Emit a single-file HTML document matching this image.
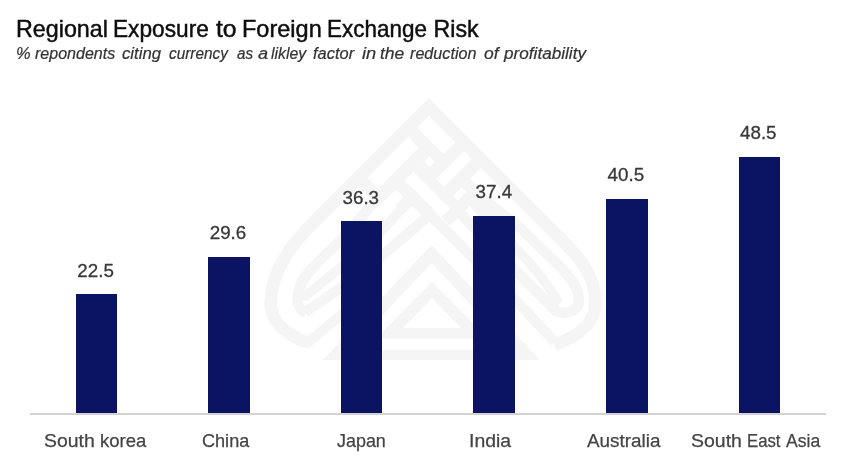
<!DOCTYPE html>
<html>
<head>
<meta charset="utf-8">
<title>Regional Exposure to Foreign Exchange Risk</title>
<style>
  html, body { margin: 0; padding: 0; background: #ffffff; }
  body { width: 842px; height: 461px; position: relative; overflow: hidden;
         font-family: "Liberation Sans", sans-serif; }
  .abs { position: absolute; white-space: nowrap; }
  #head, #labels { position: absolute; left: 0; top: 0; width: 842px; height: 461px; will-change: transform; filter: grayscale(1); }
  .tw { position: absolute; top: 16px; font-size: 23.2px; line-height: 26px; color: #0d0d0d;
        white-space: nowrap; transform-origin: 0 0; display: block; -webkit-text-stroke: 0.45px #0d0d0d; }
  .sw { position: absolute; top: 45px; font-size: 15.8px; line-height: 18px; color: #333333;
        font-style: italic; white-space: nowrap; transform-origin: 0 0; display: block; -webkit-text-stroke: 0.2px #333333; }
  .bar { position: absolute; background: #0a1463; width: 41px; }
  .val { position: absolute; font-size: 18.8px; line-height: 20px; color: #383838;
         text-align: center; width: 80px; white-space: nowrap; -webkit-text-stroke: 0.3px #383838; }
  .cw { position: absolute; top: 430px; font-size: 19px; line-height: 22px; color: #444444;
        white-space: nowrap; transform-origin: 0 0; display: block; -webkit-text-stroke: 0.25px #444444; }
  #axis { position: absolute; left: 30px; top: 413px; width: 796px; height: 2px; background: #d2d2d2; }
  #wm { position: absolute; left: 0; top: 0; }
</style>
</head>
<body>
<svg id="wm" width="842" height="461" viewBox="0 0 842 461">
<path d="M 308,343 C 290,336 270.7,325 270.7,303 C 270.7,272 292,244 309,227 L 429,107 L 557,235 C 575,253 595.5,272 595.5,303 C 595.5,325 574,338 554,345" fill="none" stroke="#f5f5f5" stroke-width="12.6" stroke-linecap="butt" stroke-linejoin="miter"/>
<path d="M 305,345 L 340,316 L 366,296" fill="none" stroke="#f5f5f5" stroke-width="10.0" stroke-linecap="butt" stroke-linejoin="miter"/>
<path d="M 305,312 L 340,288.5 L 384,254 L 430,214.7 L 516,301 L 555,342" fill="none" stroke="#f5f5f5" stroke-width="10.5" stroke-linecap="butt" stroke-linejoin="miter"/>
<path d="M404.7,180.4 L434.4,210.1 L425.5,219.1 L395.8,189.4 Z" fill="#f5f5f5"/>
<path d="M 379,197 L 340,241 L 322,258 C 308,272 297.5,284 297.5,298 C 297.5,306 300,310 306,313" fill="none" stroke="#f5f5f5" stroke-width="10.5" stroke-linecap="butt" stroke-linejoin="miter"/>
<path d="M 305.5,296 L 340,268 L 384,229 L 407.8,201.4" fill="none" stroke="#f5f5f5" stroke-width="9.5" stroke-linecap="round" stroke-linejoin="miter"/>
<path d="M 471,190 L 516,224 L 548,255 C 566,272 579,285 579,300 C 579,310 568,316 556,311 L 516,271 L 459,212" fill="none" stroke="#f5f5f5" stroke-width="10.5" stroke-linecap="butt" stroke-linejoin="miter"/>
<path d="M 473,203 L 516,248 Q 541,274 557,300" fill="none" stroke="#f5f5f5" stroke-width="9.5" stroke-linecap="round" stroke-linejoin="miter"/>
<path d="M417.0,127.6 L452.1,162.8 L443.0,171.9 L407.9,136.7 Z" fill="#f5f5f5"/>
<path d="M456.0,141.8 L464.6,150.3 L436.1,178.8 L427.5,170.3 Z" fill="#f5f5f5"/>
<path d="M472.7,158.4 L481.5,167.3 L445.3,203.6 L436.4,194.7 Z" fill="#f5f5f5"/>
<path d="M419.0,147.8 L428.2,157.0 L378.8,206.4 L369.6,197.2 Z" fill="#f5f5f5"/>
<path d="M421.2,164.0 L466.5,209.2 L458.7,217.0 L413.4,171.7 Z" fill="#f5f5f5"/>
<path d="M470.2,178.7 L515.4,223.9 L506.8,232.6 L461.5,187.3 Z" fill="#f5f5f5"/>
<path d="M466.5,192.2 L475.0,200.7 L450.0,225.7 L441.5,217.2 Z" fill="#f5f5f5"/>
<path d="M367.0,177.6 L378.1,188.7 L369.6,197.2 L358.5,186.1 Z" fill="#f5f5f5"/>
<path d="M412.5,188.2 L421.0,196.7 L403.5,214.2 L395.1,205.7 Z" fill="#f5f5f5"/>
<path d="M432.5,152.6 L440.3,160.4 L429.0,171.7 L421.2,164.0 Z" fill="#f5f5f5"/>
<path d="M429.6,156.2 L434.9,161.5 L429.6,166.8 L424.3,161.5 Z" fill="#ffffff"/>
<path d="M431.5,245 L540,360 L323,360 Z M431.5,263 L513,350 L350,350 Z" fill="#f5f5f5" fill-rule="evenodd"/>
<path d="M432,282 L488,338.5 L376,338.5 Z M432,298 L461,328 L403,328 Z" fill="#f5f5f5" fill-rule="evenodd"/>
</svg>

<div id="head">
<span class="tw" style="left:15.69px; transform:scaleX(1.0045);">Regional</span>
<span class="tw" style="left:112.54px; transform:scaleX(0.9779);">Exposure</span>
<span class="tw" style="left:215.83px; transform:scaleX(1.0667);">to</span>
<span class="tw" style="left:241.67px; transform:scaleX(1.0140);">Foreign</span>
<span class="tw" style="left:327.16px; transform:scaleX(0.9690);">Exchange</span>
<span class="tw" style="left:433.50px; transform:scaleX(1.0000);">Risk</span>
<span class="sw" style="left:15.70px; transform:scaleX(1.0417);">%</span>
<span class="sw" style="left:34.75px; transform:scaleX(1.0153);">repondents</span>
<span class="sw" style="left:122.47px; transform:scaleX(1.0593);">citing</span>
<span class="sw" style="left:169.01px; transform:scaleX(0.9728);">currency</span>
<span class="sw" style="left:236.56px; transform:scaleX(0.9688);">as</span>
<span class="sw" style="left:257.71px; transform:scaleX(1.1500);">a</span>
<span class="sw" style="left:271.25px; transform:scaleX(1.0028);">likley</span>
<span class="sw" style="left:312.88px; transform:scaleX(1.0405);">factor</span>
<span class="sw" style="left:361.71px; transform:scaleX(1.1556);">in</span>
<span class="sw" style="left:380.37px; transform:scaleX(1.1084);">the</span>
<span class="sw" style="left:409.74px; transform:scaleX(1.0234);">reduction</span>
<span class="sw" style="left:483.65px; transform:scaleX(1.1071);">of</span>
<span class="sw" style="left:503.67px; transform:scaleX(1.0863);">profitability</span>
</div>

<div id="axis"></div>

<div class="bar" style="left:76px;  top:294px; height:119px;"></div>
<div class="bar" style="left:208px; top:257px; height:156px; width:42px;"></div>
<div class="bar" style="left:341px; top:221px; height:192px;"></div>
<div class="bar" style="left:473px; top:216px; height:197px; width:42px;"></div>
<div class="bar" style="left:606px; top:199px; height:214px; width:42px;"></div>
<div class="bar" style="left:739px; top:157px; height:256px;"></div>

<div id="labels">
<div class="val" style="left:55.6px; top:260.69px;">22.5</div>
<div class="val" style="left:188.0px; top:223.09px;">29.6</div>
<div class="val" style="left:320.8px; top:187.69px;">36.3</div>
<div class="val" style="left:453.9px; top:181.89px;">37.4</div>
<div class="val" style="left:585.9px; top:165.49px;">40.5</div>
<div class="val" style="left:718.3px; top:122.79px;">48.5</div>

<div id="cats">
<span class="cw" style="left:44.28px; transform:scaleX(1.0232);">South</span>
<span class="cw" style="left:99.58px; transform:scaleX(0.9751);">korea</span>
<span class="cw" style="left:202.05px; transform:scaleX(0.9518);">China</span>
<span class="cw" style="left:336.86px; transform:scaleX(0.9433);">Japan</span>
<span class="cw" style="left:469.41px; transform:scaleX(1.0228);">India</span>
<span class="cw" style="left:587.20px; transform:scaleX(0.9946);">Australia</span>
<span class="cw" style="left:691.47px; transform:scaleX(1.0253);">South</span>
<span class="cw" style="left:746.98px; transform:scaleX(0.8795);">East</span>
<span class="cw" style="left:786.20px; transform:scaleX(0.9243);">Asia</span>
</div>
</div>
</body>
</html>
